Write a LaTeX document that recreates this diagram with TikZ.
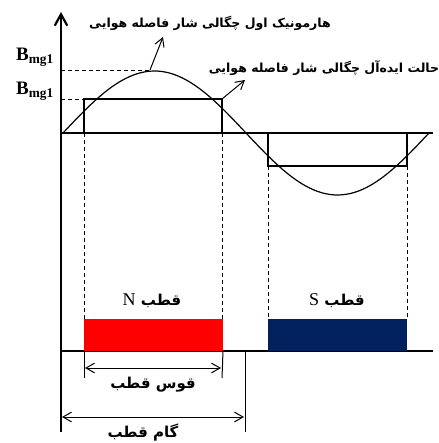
\documentclass[tikz,border=0pt]{standalone}
\usepackage{fontspec}
\setmainfont{Liberation Serif}
\newfontfamily\persfont[Script=Arabic]{DejaVu Sans}
\TeXXeTstate=1
\usetikzlibrary{arrows.meta,positioning,calc}
\definecolor{ink}{HTML}{000000}
\definecolor{northred}{HTML}{FF0000}
\definecolor{southblue}{HTML}{00215E}
\newcommand{\latinpart}[1]{\beginL{\fontspec{Liberation Serif}\mdseries\fontsize{18}{20}\selectfont #1}\endL}
\tikzset{
  axisline/.style={draw=ink,line width=2.2pt},
  axisarr/.style={-{Straight Barb[length=4mm,width=4.4mm,line width=2.2pt]},
                  line width=2.2pt,draw=ink},
  idealbox/.style={draw=ink,line width=1.9pt},
  wave/.style={draw=ink,line width=1.2pt},
  guide/.style={draw=ink,dashed,dash pattern=on 4pt off 3pt,line width=0.8pt},
  pointer/.style={-{Straight Barb[length=3mm,width=3.4mm]},line width=1pt,
                  draw=ink},
  dimarr/.style={{Straight Barb[length=3mm,width=3.4mm]}-{Straight Barb[length=3mm,width=3.4mm]},
                 line width=1pt,draw=ink},
  tick/.style={draw=ink,line width=1pt},
  pole/.style={inner sep=0pt,outer sep=0pt},
  perslbl/.style={font=\persfont\bfseries\fontsize{12.5}{14}\selectfont,
                  inner sep=0pt},
  perslblbig/.style={font=\persfont\bfseries\fontsize{15}{17}\selectfont,
                  inner sep=0pt},
  bval/.style={font=\bfseries\fontsize{19}{20}\selectfont,inner sep=0pt}
}
\begin{document}
\begin{tikzpicture}[x=1pt,y=-1pt]
    \path[use as bounding box] (0,0) rectangle (438,443);

    % axes
    \coordinate (origin) at (61,133);
    \coordinate (axtop) at (61,12);
    \coordinate (axbot) at (61,432);
    \coordinate (axright) at (433,133);
    \coordinate (baseleft) at (61,351);
    \coordinate (baseright) at (433,351);
    \draw[axisarr] (axbot) -- (axtop);
    \draw[axisline] (origin) -- (axright);
    \draw[axisline] (baseleft) -- (baseright);

    % ideal flux density and its first harmonic
    \draw[idealbox] (84,133) -- (84,99) -- (222,99) -- (222,133);
    \draw[idealbox] (268,133) -- (268,166) -- (407,166) -- (407,133);
    \draw[wave] plot[domain=63:429,samples=90]
      (\x,{133-62*sin((\x-63)*0.98361)});

    % levels
    \coordinate (peak) at (150,70);
    \coordinate (flat) at (84,99);
    \draw[guide] (61,70) -- (peak);
    \draw[guide] (61,99) -- (flat);
    \node[bval] (bpeak) at (35,57) {B\textsubscript{mg1}};
    \node[bval] (bflat) at (35,91) {B\textsubscript{mg1}};

    % pole edges
    \foreach \xx/\ytop in {84/133,222/133,268/166,407/166}{
      \draw[guide] (\xx,\ytop) -- (\xx,319);
    }

    % poles
    \node[pole,fill=northred,minimum width=139pt,minimum height=32pt,
          anchor=south west] (npole) at (84,351) {};
    \node[pole,fill=southblue,minimum width=139pt,minimum height=32pt,
          anchor=south west] (spole) at (268,351) {};
    \node[perslblbig] (nlbl) at (152,301)
      {\beginR قطب \latinpart{N}\endR};
    \node[perslblbig] (slbl) at (337,301)
      {\beginR قطب \latinpart{S}\endR};

    % pointer labels
    \node[perslbl] (harmlbl) at (210,23)
      {\beginR هارمونیک اول چگالی شار فاصله هوایی\endR};
    \node[perslbl] (ideallbl) at (324,68)
      {\beginR حالت ایده‌آل چگالی شار فاصله هوایی\endR};
    \coordinate (harmtip) at (163,37);
    \coordinate (idealtip) at (245,80);
    \draw[pointer] (peak) -- (harmtip);
    \draw[pointer] (222,99) -- (idealtip);

    % pole arc and pole pitch
    \coordinate (arcl) at (84,378);
    \coordinate (arcr) at (222,378);
    \coordinate (pitchr) at (245,432);
    \draw[tick] (npole.south west) -- (arcl);
    \draw[tick] (npole.south east) -- (arcr);
    \draw[tick] (245,351) -- (pitchr);
    \draw[dimarr] (85,368) -- (221,368);
    \draw[dimarr] (62,417) -- (244,417);
    \node[perslblbig] (arclbl) at (153,385) {\beginR قوس قطب\endR};
    \node[perslblbig] (pitchlbl) at (143,433) {\beginR گام قطب\endR};
  \end{tikzpicture}
\end{document}
